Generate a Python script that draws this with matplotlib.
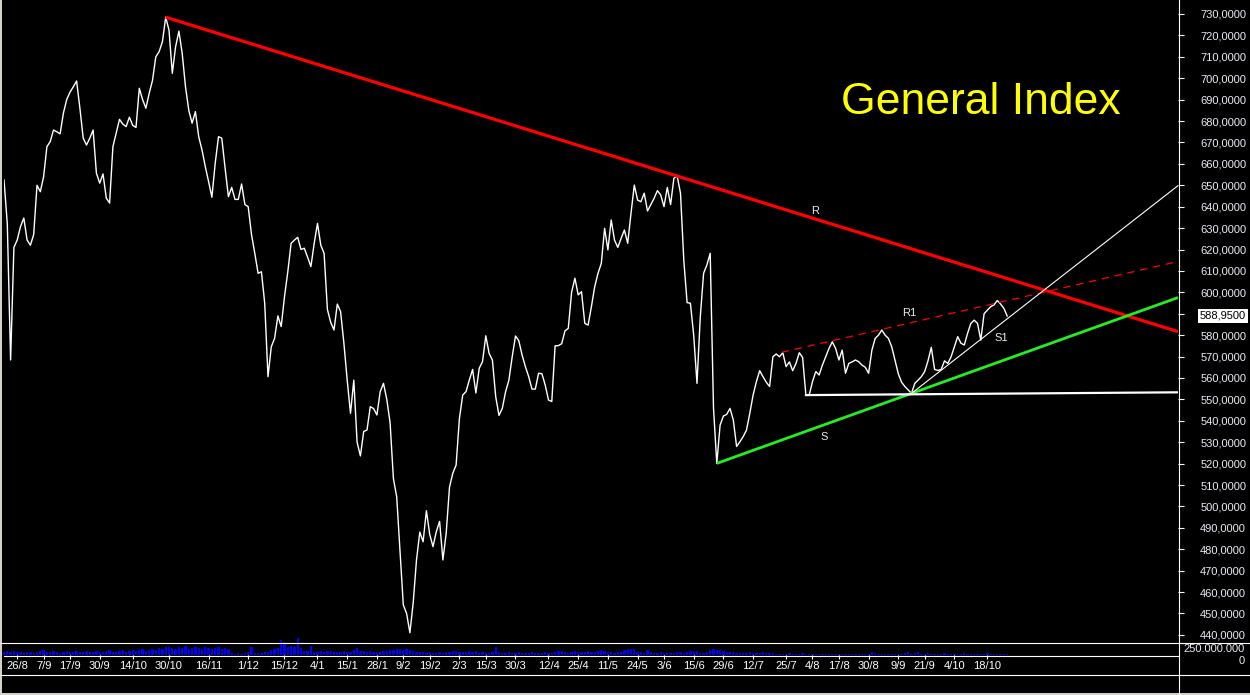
import numpy as np
import matplotlib
matplotlib.use("Agg")
from matplotlib import pyplot as plt
from matplotlib.lines import Line2D
from matplotlib.patches import Rectangle

plt.rcParams['font.family'] = ['Liberation Sans', 'DejaVu Sans']

# daily closes, one per session (session 0 = first bar on the left)
closes = [
    652.5, 632.0, 568.4, 621.0, 624.4, 630.7, 634.7, 624.4, 622.0, 627.0,
    650.0, 647.0, 654.0, 668.0, 670.4, 675.8, 675.0, 674.0, 683.7, 690.0,
    693.5, 696.0, 698.7, 686.0, 672.0, 668.8, 672.0, 675.8, 655.7, 651.0,
    655.3, 644.0, 641.7, 668.0, 674.4, 680.8, 678.6, 677.4, 681.8, 678.0,
    677.0, 695.3, 690.0, 686.0, 693.0, 699.0, 710.0, 712.4, 717.0, 728.5,
    722.5, 702.3, 714.7, 722.0, 711.6, 696.0, 685.0, 679.0, 684.4, 672.7,
    666.5, 658.7, 651.7, 644.4, 660.3, 672.7, 672.0, 658.0, 644.7, 649.0,
    643.4, 643.4, 650.6, 641.0, 640.0, 627.0, 618.2, 608.9, 609.6, 595.0,
    560.6, 574.6, 578.5, 589.0, 584.0, 598.0, 609.6, 622.9, 624.4, 625.7,
    620.0, 620.6, 616.4, 612.0, 622.9, 632.2, 622.0, 618.2, 592.0, 586.0,
    582.4, 594.5, 591.0, 576.2, 559.0, 543.5, 559.0, 530.0, 523.6, 535.0,
    535.7, 546.6, 545.7, 542.7, 553.6, 557.5, 550.0, 539.0, 513.0, 504.5,
    479.6, 454.0, 450.0, 441.0, 455.0, 475.0, 488.0, 483.5, 498.0, 487.0,
    481.2, 488.2, 493.0, 475.0, 487.5, 509.0, 515.5, 519.3, 541.0, 552.0,
    553.6, 559.0, 564.0, 553.0, 564.5, 567.6, 579.7, 571.5, 568.4, 551.3,
    542.5, 545.8, 553.6, 559.0, 569.9, 579.6, 577.4, 570.7, 565.3, 560.6,
    554.8, 554.8, 562.2, 562.0, 556.7, 549.7, 549.0, 575.0, 575.1, 576.0,
    582.0, 583.2, 600.0, 606.6, 598.8, 600.3, 585.5, 584.7, 593.3, 602.6,
    608.9, 613.5, 629.9, 619.8, 633.8, 624.4, 621.0, 625.2, 629.1, 622.9,
    636.9, 650.1, 643.1, 642.3, 646.3, 638.0, 641.0, 643.9, 647.5, 645.5,
    640.0, 649.0, 641.0, 653.3, 654.3, 646.3, 615.0, 595.2, 594.9, 580.0,
    557.5, 588.6, 608.9, 612.8, 618.2, 546.0, 520.1, 538.0, 542.2, 543.0,
    545.8, 540.4, 528.0, 530.2, 532.6, 535.7, 543.5, 552.0, 558.3, 563.4,
    560.6, 558.0, 556.0, 569.9, 571.2, 569.9, 571.8, 565.3, 567.5, 563.4,
    566.8, 571.8, 569.6, 552.0, 552.0, 558.3, 563.0, 561.4, 566.0, 569.9,
    573.8, 576.9, 573.8, 568.4, 573.0, 562.2, 566.8, 567.5, 568.4, 567.6,
    566.0, 565.0, 562.2, 573.0, 578.5, 580.0, 582.4, 580.0, 578.5, 574.6,
    568.4, 562.0, 558.0, 556.0, 554.4, 552.8, 557.5, 559.0, 560.6, 563.0,
    568.0, 574.3, 564.0, 563.5, 564.0, 568.0, 566.8, 569.9, 574.6, 579.3,
    576.2, 575.4, 580.9, 585.5, 587.0, 585.5, 577.7, 590.0, 591.7, 593.3,
    594.1, 596.2, 594.5, 592.5, 588.95,
]

# volume in millions, one per session
volume_m = (
    [60, 80, 60, 80, 60, 60, 40, 60, 60, 40, 60, 80]
    + [100, 60, 60, 80, 60, 40, 60, 80, 60, 60, 80, 60, 60]
    + [80, 60, 60, 80, 60, 60, 80, 100, 60, 60, 80, 100, 60, 80, 100]
    + [80, 100, 120, 80, 100, 120, 100, 140, 120, 160]
    + [160, 140, 120, 160, 140, 180, 120, 140, 160, 140, 120, 160]
    + [140, 120, 140, 160, 120, 140, 120]
    + [40, 20, 40, 20, 40, 60]
    + [160]
    + [40, 40, 40, 60, 60, 100, 120, 140]
    + [300, 260, 160, 180, 160, 340, 140, 80, 80, 180, 60, 60]
    + [80, 60, 80, 80, 60, 60, 60, 80, 60, 60, 100, 140, 80, 80, 60, 80, 60, 60]
    + [60, 80, 80, 100, 100, 120, 120, 100, 120, 100, 80, 60, 60, 60, 40, 60, 40]
    + [40, 60, 40, 60, 60, 80, 80, 60, 60, 60, 80, 60, 80, 40, 60, 40, 40, 60, 160, 60]
    + [40, 40, 60, 40, 40, 60, 40, 40, 40, 60, 40, 40, 40, 60, 40,
       40, 60, 80, 80, 60, 40, 60, 80, 60, 60, 60, 80, 60, 60, 80]
    + [100, 80, 60, 60, 40, 60, 60, 100, 120, 120, 120, 60, 60, 40, 100, 60, 40, 40, 60, 40]
    + [40, 40, 40, 60, 60, 40, 60, 80, 80, 80, 40, 40, 60, 100, 120, 100, 100, 80]
    + [60, 60, 60, 40, 40, 40, 40, 60, 40, 40, 40, 60, 40,
       40, 40, 20, 20, 20, 20, 40, 20, 20, 20, 40, 20, 20]
    + [20] * 18
    + [60, 40]
    + [20] * 8
    + [40, 60, 20, 40, 60]
    + [20, 20, 40, 20, 20, 20, 20, 40, 20, 20, 20, 20, 20, 40,
       20, 20, 20, 20, 20, 20, 40, 20, 20, 20, 20, 20, 20]
)

date_pos = [4, 12, 20, 29, 39, 50, 62, 74, 85, 95, 104, 113, 121, 129, 138, 146, 155,
            165, 174, 183, 192, 200, 209, 218, 227, 237, 245, 253, 262, 271, 279, 288, 298]
date_labels = ['26/8', '7/9', '17/9', '30/9', '14/10', '30/10', '16/11', '1/12', '15/12',
               '4/1', '15/1', '28/1', '9/2', '19/2', '2/3', '15/3', '30/3', '12/4', '25/4',
               '11/5', '24/5', '3/6', '15/6', '29/6', '12/7', '25/7', '4/8', '17/8', '30/8',
               '9/9', '21/9', '4/10', '18/10']

price_ticks = list(range(440, 740, 10))
last_price = 588.95

# trend lines: two anchor points (session, price), extended to the right edge
r_line = ([49, 204], [728.5, 654.3])
r1_line = ([235.7, 266], [572.0, 582.7])
s_line = ([216, 275], [520.1, 552.8])
s1_line = ([275, 304.8], [552.8, 588.6])
flat_line = ([243, 355.7], [552.0, 553.3])

assert len(closes) == len(volume_m), (len(closes), len(volume_m))

W, H = 1250, 695
X_END = 355.76


def box(l, t, r, b):
    return [l / W, 1 - b / H, (r - l) / W, (b - t) / H]


def extend(pts, x_end):
    (x0, x1), (y0, y1) = pts
    k = (y1 - y0) / (x1 - x0)
    return [x0, x_end], [y0, y0 + k * (x_end - x0)]


fig = plt.figure(figsize=(W / 100, H / 100), dpi=100, facecolor='black')
ax = fig.add_axes(box(4, 0, 1178, 642), facecolor='black')
vax = fig.add_axes(box(4, 642, 1178, 655), facecolor='black', sharex=ax)

x = np.arange(len(closes))

# price panel
ax.plot(x, closes, color='white', lw=1.0, zorder=2)
ax.plot(*extend(r_line, X_END), color='#ff0000', lw=2.3, zorder=3, solid_capstyle='butt')
ax.plot(*extend(s_line, X_END), color='#22ee22', lw=2.0, zorder=3, solid_capstyle='butt')
ax.plot(*extend(r1_line, X_END), color='#ff0000', lw=0.9, zorder=3, dashes=(6, 4.5))
ax.plot(*extend(s1_line, X_END), color='white', lw=0.8, zorder=3)
ax.plot(*flat_line, color='white', lw=1.6, zorder=3)

lbl = dict(color='#e8ecf4', fontsize=8, ha='center', va='center', zorder=4)
ax.text(245.8, 638.0, 'R', **lbl)
ax.text(274.2, 590.3, 'R1', **lbl)
ax.text(248.5, 532.4, 'S', **lbl)
ax.text(302.1, 578.7, 'S1', **lbl)

ax.text(0.832, 0.84, 'General Index', transform=ax.transAxes, color='#ffff00',
        fontsize=32, ha='center', va='center')

ax.set_xlim(0, X_END)
ax.set_ylim(730 - 628 / 2.141, 730 + 14 / 2.141)
ax.yaxis.tick_right()
ax.set_yticks(price_ticks)
ax.set_yticklabels(['' if v == 590 else f'{v},0000' for v in price_ticks])
ax.tick_params(axis='y', right=True, left=False, length=4, width=0.8, color='white',
               labelcolor='#e8ecf4', labelsize=8, pad=12)
ax.tick_params(axis='x', bottom=False, labelbottom=False)
for sp in ax.spines.values():
    sp.set_visible(False)

ax.annotate(f'{last_price:.4f}'.replace('.', ','), xy=(1, last_price),
            xycoords=('axes fraction', 'data'), xytext=(15.5, 0), textcoords='offset points',
            ha='left', va='center', fontsize=8, color='black',
            bbox=dict(boxstyle='square,pad=0.18', fc='white', ec='none'))

# volume panel
vax.bar(x, volume_m, width=0.7, color='#0000ff', clip_on=False, zorder=5)
vax.set_ylim(0, 260)
vax.yaxis.tick_right()
vax.set_yticks([250])
vax.set_yticklabels([''])
vax.tick_params(axis='y', right=True, left=False, length=4, width=0.8, color='white')
vax.set_xticks(date_pos)
vax.set_xticklabels(date_labels)
vax.tick_params(axis='x', bottom=True, length=3, width=0.8, color='white',
                labelcolor='white', labelsize=8, pad=1.5)
for sp in vax.spines.values():
    sp.set_visible(False)
vax.set_xlim(0, X_END)

fig.text(1183 / W, 1 - 649 / H, '250.000.000', color='#e8ecf4', fontsize=8,
         ha='left', va='center')
fig.text(1245 / W, 1 - 661 / H, '0', color='#e8ecf4', fontsize=8, ha='right', va='center')

# frame lines
def fline(x0, y0, x1, y1):
    fig.add_artist(Line2D([x0 / W, x1 / W], [1 - y0 / H, 1 - y1 / H],
                          transform=fig.transFigure, color='white', lw=0.8))


fline(1178.5, 0, 1178.5, 695)
fline(0, 642.5, 1250, 642.5)
fline(4, 655.5, 1178.5, 655.5)
fline(0, 674.5, 1250, 674.5)
fig.add_artist(Rectangle((0, 0), 2 / W, 1, transform=fig.transFigure,
                         color='#d4d0c8', lw=0))
fig.add_artist(Rectangle((0, 0), 1, 2 / H, transform=fig.transFigure,
                         color='#d4d0c8', lw=0))

fig.savefig('out.png', dpi=100, facecolor='black')
